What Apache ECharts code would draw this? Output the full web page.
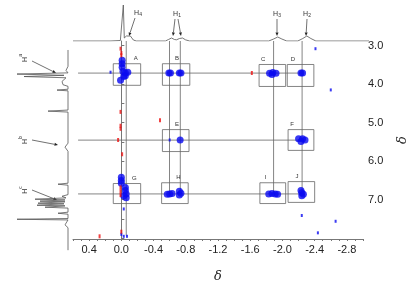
<!DOCTYPE html>
<html>
<head>
<meta charset="utf-8">
<script src="https://cdn.jsdelivr.net/npm/echarts@6/dist/echarts.min.js"></script>
<style>
html, body { margin: 0; padding: 0; background: #fff; }
#chart { width: 417px; height: 288px; }
</style>
</head>
<body>
<div id="chart"></div>
<script>
// tick labels (ppm)
var xTickLabels = [0.4, 0.0, -0.4, -0.8, -1.2, -1.6, -2.0, -2.4, -2.8];
var yTickLabels = [3, 4, 5, 6, 7];

// 1D projection on top: [ppm, intensity]
var topSpectrum = [
    [0.6, 0], [0.15, 0], [0.024, 0.5], [0.0, 2], [-0.012, 36], [-0.024, 3],
    [-0.049, 5], [-0.073, 7], [-0.098, 5], [-0.134, 1], [-0.17, 0],
    [-0.524, 0], [-0.561, 1.5], [-0.598, 3], [-0.634, 1.5], [-0.659, 1.2],
    [-0.695, 2.5], [-0.732, 3], [-0.768, 1.2], [-0.817, 0],
    [-1.78, 0], [-1.84, 2], [-1.89, 4], [-1.94, 2], [-2.0, 0],
    [-2.134, 0], [-2.195, 2.5], [-2.244, 5], [-2.293, 2.5], [-2.354, 0], [-3.0, 0]
];

// 1D projection on the left: [intensity, ppm]
var leftSpectrum = [
    [0, 3.10], [0, 3.50], [2, 3.60], [0, 3.66], [51, 3.689], [4, 3.72], [44, 3.75],
    [2, 3.78], [0, 3.80], [6, 3.87], [5, 3.95], [0, 3.99], [0, 4.06], [11, 4.081],
    [0, 4.10], [0, 4.57], [20, 4.596], [0, 4.62], [0, 5.38], [3, 5.478], [0, 5.58],
    [0, 6.36], [10, 6.385], [0, 6.41], [0, 6.64], [6, 6.68], [2, 6.72], [33, 6.752],
    [3, 6.77], [28, 6.80], [3, 6.815], [30, 6.85], [4, 6.865], [31, 6.90], [3, 6.915],
    [23, 6.948], [0, 6.97], [0, 7.07], [10, 7.096], [0, 7.12], [0, 7.225], [51, 7.243],
    [0, 7.26], [3, 7.38], [0, 7.45], [0, 8.0]
];

// blue cross peaks [ppm x, ppm y]
var bluePeaks = [
    [-0.05, 3.71], [-0.02, 3.67], [-0.08, 3.69], [-0.05, 3.78], [-0.03, 3.80],
    [-0.01, 3.38], [-0.01, 3.47], [-0.01, 3.56], [0.01, 3.90],
    [-0.59, 3.71], [-0.61, 3.71], [-0.72, 3.71], [-0.74, 3.71],
    [-1.84, 3.72], [-1.88, 3.70], [-1.92, 3.72], [-1.87, 3.75],
    [-2.23, 3.71], [-2.25, 3.71],
    [-0.73, 5.45],
    [-2.20, 5.42], [-2.25, 5.42], [-2.28, 5.45], [-2.23, 5.49],
    [-0.05, 6.68], [-0.05, 6.76], [-0.06, 6.85], [-0.06, 6.95], [-0.03, 6.90],
    [0.0, 6.42], [0.0, 6.50], [0.0, 6.57],
    [-0.57, 6.86], [-0.60, 6.85], [-0.63, 6.84], [-0.72, 6.78], [-0.72, 6.88], [-0.74, 6.83],
    [-1.83, 6.85], [-1.87, 6.84], [-1.91, 6.85], [-1.94, 6.86],
    [-2.23, 6.76], [-2.24, 6.82], [-2.24, 6.90], [-2.26, 6.86]
];
var blueSpots = [
    [0.134, 3.69], [-0.60, 5.45], [-0.03, 7.24], [0.0, 7.90], [-0.03, 7.95], [-0.07, 7.95],
    [-2.41, 3.08], [-2.60, 4.15], [-2.24, 7.41], [-2.44, 7.86], [-2.66, 7.56]
];
var redSpots = [
    [0.01, 3.08], [0.0, 3.19], [0.0, 3.25], [-1.62, 3.71], [-0.48, 4.94],
    [0.01, 4.72], [0.01, 5.08], [0.01, 5.16], [0.04, 5.45], [-0.01, 5.82],
    [0.01, 6.68], [0.01, 6.78], [0.01, 6.88], [0.27, 7.95], [0.0, 7.83]
];

// boxes: name, x1, x2, y1, y2, label x (ppm)
var boxes = [
    ['A', 0.10, -0.24, 3.47, 4.03, -0.18],
    ['B', -0.51, -0.85, 3.47, 4.03, -0.69],
    ['C', -1.71, -2.04, 3.49, 4.06, -1.76],
    ['D', -2.06, -2.39, 3.49, 4.06, -2.13],
    ['E', -0.51, -0.84, 5.18, 5.75, -0.69],
    ['F', -2.07, -2.39, 5.18, 5.72, -2.12],
    ['G', 0.10, -0.24, 6.58, 7.10, -0.16],
    ['H', -0.50, -0.83, 6.56, 7.10, -0.71],
    ['I', -1.72, -2.04, 6.56, 7.10, -1.79],
    ['J', -2.07, -2.40, 6.53, 7.07, -2.18]
];

// guide lines: x1, y1, x2, y2 (ppm)
var guides = [
    [-0.061, 2.88, -0.061, 7.93],
    [-0.598, 2.88, -0.598, 6.85],
    [-0.732, 2.88, -0.732, 6.85],
    [-1.89, 2.88, -1.89, 6.85],
    [-2.244, 2.88, -2.244, 6.85],
    [0.537, 3.713, -2.244, 3.713],
    [0.537, 5.453, -2.244, 5.453],
    [0.537, 6.85, -2.244, 6.85]
];

var xTicks = [];
for (var i = 0; i <= 36; i++) xTicks.push(+(0.6 - i * 0.1).toFixed(2));
var yTicks = [3, 3.5, 4, 4.5, 5, 5.5, 6, 6.5, 7, 7.5, 8];

var dom = document.getElementById('chart');
var myChart = echarts.init(dom);

function arrow(x1, y1, x2, y2) {
    var a = Math.atan2(y2 - y1, x2 - x1), s = 3.5;
    var bx = x2 - s * Math.cos(a), by = y2 - s * Math.sin(a);
    var nx = -Math.sin(a) * 1.5, ny = Math.cos(a) * 1.5;
    return [
        { type: 'line', shape: { x1: x1, y1: y1, x2: bx, y2: by }, style: { stroke: '#333', lineWidth: 0.7 } },
        { type: 'polygon', shape: { points: [[x2, y2], [bx + nx, by + ny], [bx - nx, by - ny]] }, style: { fill: '#222' } }
    ];
}

function hLabel(x, y, sub, rot) {
    return {
        type: 'text', x: x, y: y, rotation: rot || 0,
        style: {
            text: 'H{s|' + sub + '}', fill: '#333', fontSize: 7, fontFamily: 'Liberation Sans',
            align: 'center', verticalAlign: 'middle',
            rich: { s: { fontSize: 5, verticalAlign: rot ? 'top' : 'bottom', padding: rot ? [-3, 0, 0, 0] : [4, 0, 0, 0] } }
        }
    };
}

var graphics = [];
graphics.push(hLabel(138, 13, '4'));
graphics.push(hLabel(177, 14, '1'));
graphics.push(hLabel(277, 14, '3'));
graphics.push(hLabel(307, 14, '2'));
graphics = graphics.concat(arrow(135, 18, 129, 36), arrow(175, 19, 173, 36), arrow(178, 19, 181, 36),
    arrow(277, 19, 277, 36), arrow(307, 19, 306, 36));
graphics.push(hLabel(25, 58, 'a', Math.PI / 2));
graphics.push(hLabel(25, 140, 'b', Math.PI / 2));
graphics.push(hLabel(25, 190, 'c', Math.PI / 2));
graphics = graphics.concat(arrow(32, 61, 56, 73), arrow(32, 140, 58, 145), arrow(32, 190, 57, 200));

var option = {
    animation: false,
    backgroundColor: '#fff',
    grid: [
        { left: 73, top: 41, width: 296, height: 210 },
        { left: 73, top: 0, width: 296, height: 41 },
        { left: 10, top: 41, width: 58, height: 210 }
    ],
    xAxis: [
        {
            gridIndex: 0, type: 'value', inverse: true, min: -3.0, max: 0.6,
            name: 'δ', nameLocation: 'middle', nameGap: 31,
            nameTextStyle: { fontFamily: 'DejaVu Serif', fontStyle: 'italic', fontSize: 13, color: '#222' },
            axisLine: { show: true, lineStyle: { color: '#777', width: 1 } },
            axisTick: { show: true, length: 2, customValues: xTicks, lineStyle: { color: '#777' } },
            axisLabel: {
                customValues: xTickLabels, margin: 5, fontSize: 11, color: '#222', fontFamily: 'Liberation Sans',
                formatter: function (v) { return v.toFixed(1); }
            },
            splitLine: { show: false }
        },
        { gridIndex: 1, type: 'value', inverse: true, min: -3.0, max: 0.6, show: false },
        { gridIndex: 2, type: 'value', inverse: true, min: 0, max: 58, show: false }
    ],
    yAxis: [
        {
            gridIndex: 0, type: 'value', inverse: true, position: 'right', min: 2.88, max: 8.02,
            name: 'δ', nameLocation: 'middle', nameGap: 33, nameRotate: 90,
            nameTextStyle: { fontFamily: 'DejaVu Serif', fontStyle: 'italic', fontSize: 13, color: '#222' },
            axisLine: { show: true, lineStyle: { color: '#777', width: 1 } },
            axisTick: { show: true, length: 3, customValues: yTicks, lineStyle: { color: '#777' } },
            axisLabel: {
                customValues: yTickLabels, margin: 5, fontSize: 11, color: '#222', fontFamily: 'Liberation Sans',
                formatter: function (v) { return v.toFixed(1); }
            },
            splitLine: { show: false }
        },
        { gridIndex: 1, type: 'value', min: 0, max: 41, show: false },
        { gridIndex: 2, type: 'value', inverse: true, min: 2.88, max: 8.02, show: false }
    ],
    series: [
        {
            type: 'custom', xAxisIndex: 0, yAxisIndex: 0, silent: true,
            data: guides,
            renderItem: function (params, api) {
                var g = guides[params.dataIndex];
                var p1 = api.coord([g[0], g[1]]), p2 = api.coord([g[2], g[3]]);
                return { type: 'line', shape: { x1: p1[0], y1: p1[1], x2: p2[0], y2: p2[1] },
                    style: { stroke: '#666', lineWidth: 0.8 } };
            }
        },
        {
            type: 'custom', xAxisIndex: 0, yAxisIndex: 0, silent: true,
            data: boxes.map(function (b) { return [b[1], b[3]]; }),
            renderItem: function (params, api) {
                var b = boxes[params.dataIndex];
                var p1 = api.coord([b[1], b[3]]), p2 = api.coord([b[2], b[4]]);
                var lp = api.coord([b[5], b[3]]);
                return {
                    type: 'group', children: [
                        { type: 'rect', shape: { x: p1[0], y: p1[1], width: p2[0] - p1[0], height: p2[1] - p1[1] },
                            style: { fill: 'none', stroke: '#666', lineWidth: 0.8 } },
                        { type: 'text', x: lp[0], y: lp[1] - 2,
                            style: { text: b[0], fontSize: 6, fill: '#333', fontFamily: 'Liberation Sans',
                                align: 'center', verticalAlign: 'bottom' } }
                    ]
                };
            }
        },
        {
            type: 'scatter', xAxisIndex: 0, yAxisIndex: 0, data: bluePeaks, symbol: 'circle', symbolSize: 7,
            itemStyle: { color: '#0a0af0' }, silent: true
        },
        {
            type: 'scatter', xAxisIndex: 0, yAxisIndex: 0, data: blueSpots, symbol: 'rect', symbolSize: [2, 3],
            itemStyle: { color: '#0a0af0' }, silent: true
        },
        {
            type: 'scatter', xAxisIndex: 0, yAxisIndex: 0, data: redSpots, symbol: 'rect', symbolSize: [2, 4],
            itemStyle: { color: '#ee1111' }, silent: true
        },
        {
            type: 'line', xAxisIndex: 1, yAxisIndex: 1, data: topSpectrum, showSymbol: false,
            lineStyle: { color: '#555', width: 0.8 }, silent: true
        },
        {
            type: 'line', xAxisIndex: 2, yAxisIndex: 2, data: leftSpectrum, showSymbol: false,
            lineStyle: { color: '#555', width: 0.8 }, silent: true
        }
    ],
    graphic: graphics
};
myChart.setOption(option);
</script>
</body>
</html>
